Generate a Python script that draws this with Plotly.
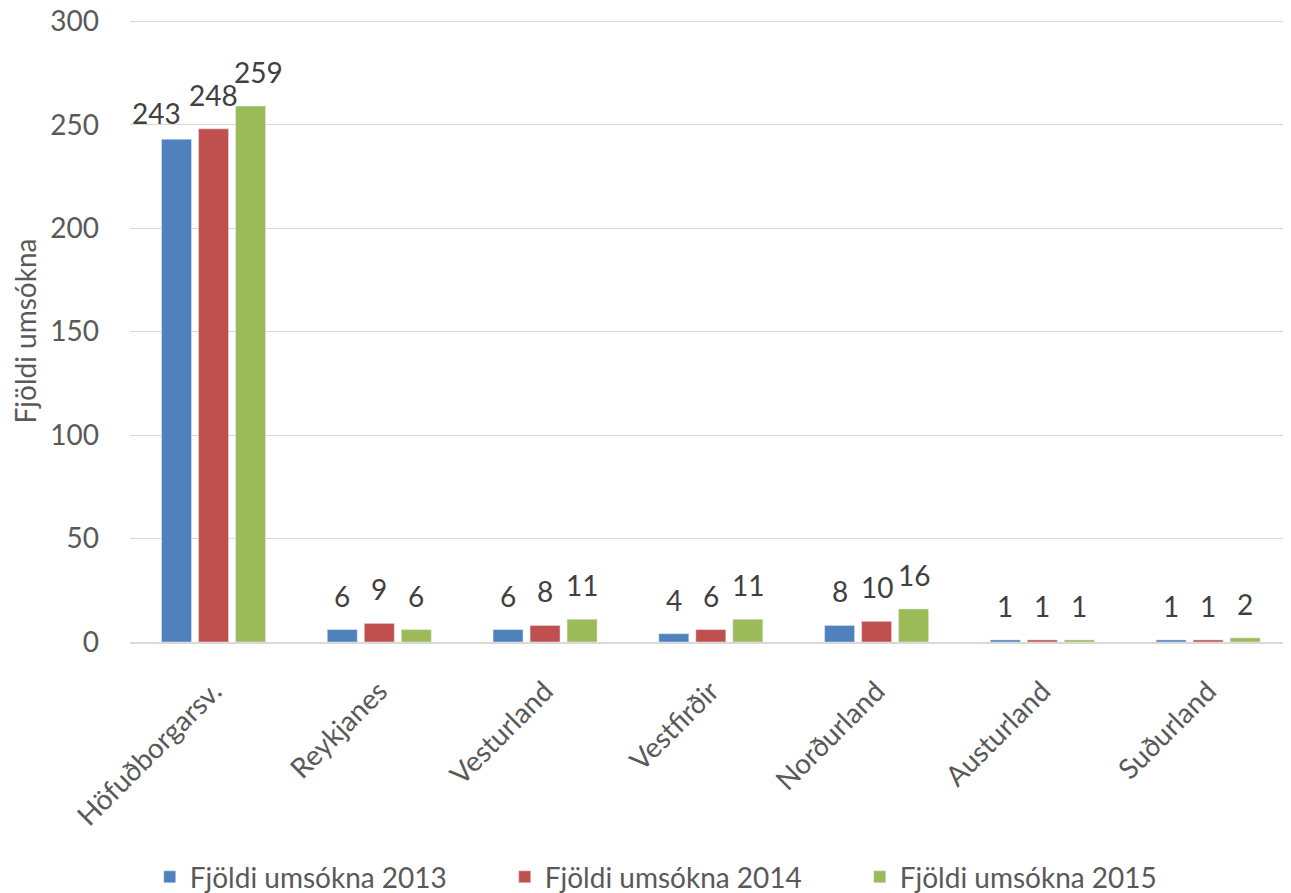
import plotly.graph_objects as go

categories = ["Höfuðborgarsv.", "Reykjanes", "Vesturland", "Vestfirðir", "Norðurland", "Austurland", "Suðurland"]
series_names = ["Fjöldi umsókna 2013", "Fjöldi umsókna 2014", "Fjöldi umsókna 2015"]
v2013 = [243, 6, 6, 4, 8, 1, 1]
v2014 = [248, 9, 8, 6, 10, 1, 1]
v2015 = [259, 6, 11, 11, 16, 1, 2]
colors = ["#4F81BD", "#C0504D", "#9BBB59"]

font_family = "Lato, 'Open Sans', sans-serif"
fs = 28

# the page body has an 8px margin, so the figure is drawn 8px in from the window corner
W, H = 1283, 885
ML, MR, MT, MB = 122, 0, 12, 251
bargap, bargroupgap = 0.33, 0.19

fig = go.Figure()
for name, vals, c in zip(series_names, [v2013, v2014, v2015], colors):
    fig.add_trace(go.Bar(x=categories, y=vals, name=name, marker_color=c))

# data labels as annotations, offset to follow each bar of the group
cat_w = (W - ML - MR) / len(categories)
slot = (1 - bargap) * cat_w / len(series_names)
# extra nudges to avoid crowding of the tall first group (as in the reference)
nudge_x = {(0, 0): -20, (0, 2): 8}
nudge_y = {(0, 0): -8}
for i, vals in enumerate([v2013, v2014, v2015]):
    for j, (cat, v) in enumerate(zip(categories, vals)):
        fig.add_annotation(
            x=cat, y=v, text=str(v), showarrow=False,
            xanchor="center", yanchor="bottom",
            xshift=(i - 1) * slot + nudge_x.get((j, i), 0),
            yshift=15 + nudge_y.get((j, i), 0),
            font=dict(size=fs, color="#404040", family=font_family),
        )

fig.update_layout(
    width=W, height=H,
    margin=dict(l=ML, r=MR, t=MT, b=MB, autoexpand=False),
    paper_bgcolor="white", plot_bgcolor="white",
    barmode="group", bargap=bargap, bargroupgap=bargroupgap,
    font=dict(family=font_family, size=fs, color="#595959"),
    showlegend=True,
    legend=dict(orientation="h", x=0.017, xanchor="left", y=-0.378, yanchor="middle",
                font=dict(size=fs, color="#595959"), itemwidth=30, traceorder="normal",
                entrywidth=310, bgcolor="rgba(0,0,0,0)"),
    xaxis=dict(tickangle=-45, tickfont=dict(size=fs, color="#595959"), automargin=False,
               showline=True, linecolor="#D9D9D9", linewidth=1.5, ticks="",
               ticklabelstandoff=20),
    yaxis=dict(range=[0, 300.6], tickvals=[0, 50, 100, 150, 200, 250, 300],
               showgrid=True, gridcolor="#D9D9D9",
               zeroline=False, tickfont=dict(size=fs, color="#595959"), automargin=False,
               ticklabeloverflow="allow",
               title=dict(text="Fjöldi umsókna", font=dict(size=fs, color="#595959"), standoff=9),
               ticks="", ticklabelstandoff=30),
)

fig.write_html("out.html")
